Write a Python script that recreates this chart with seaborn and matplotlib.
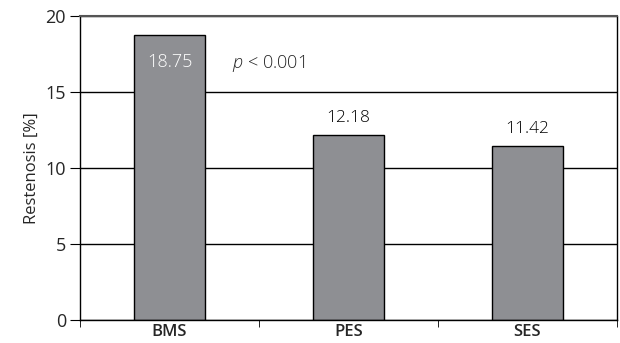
import matplotlib
matplotlib.use("Agg")
import matplotlib.pyplot as plt
import seaborn as sns
import pandas as pd

# Data
stents = ["BMS", "PES", "SES"]
restenosis = [18.75, 12.18, 11.42]
p_text = "< 0.001"

df = pd.DataFrame({"stent": stents, "restenosis": restenosis})

sns.set_style("white")
plt.rcParams["font.family"] = ["Open Sans", "DejaVu Sans"]
plt.rcParams["mathtext.fontset"] = "custom"
plt.rcParams["mathtext.it"] = "Open Sans:italic:light"
plt.rcParams["mathtext.rm"] = "Open Sans:light"

fig, ax = plt.subplots(figsize=(6.2, 3.43), dpi=100)
fig.subplots_adjust(left=0.129, right=0.995, bottom=0.067, top=0.953)

# Gridlines under the bars
ax.set_axisbelow(True)
ax.yaxis.grid(True, color="black", linewidth=1)

sns.barplot(data=df, x="stent", y="restenosis", color="#8e8f93",
            saturation=1, edgecolor="black", linewidth=1, width=0.4, ax=ax)

ax.set_ylim(0, 20)
ax.set_xlim(-0.5, 2.5)
ax.set_yticks([0, 5, 10, 15, 20])
ax.set_xlabel("")
ax.set_ylabel("Restenosis [%]", fontsize=12)

# Value labels
for i, v in enumerate(restenosis):
    if i == 0:
        ax.text(i, v - 1.2, f"{v:.2f}", ha="center", va="top", color="white",
                fontsize=13, fontweight="light")
    else:
        ax.text(i, v + 0.6, f"{v:.2f}", ha="center", va="bottom", color="black",
                fontsize=12.5, fontweight="light")

ax.text(0.35, 16.9, "$\\it{p}$ " + p_text, ha="left", va="center", fontsize=13,
        fontweight="light")

# Spines and ticks
for side in ["left", "bottom", "right", "top"]:
    ax.spines[side].set_visible(True)
    ax.spines[side].set_color("black")
    ax.spines[side].set_linewidth(1)
ax.spines["top"].set_color("#555555")
ax.spines["top"].set_linewidth(1.5)

ax.set_xticks([0, 1, 2])
ax.set_xticklabels(stents, fontsize=12, fontweight="semibold")
ax.set_xticks([-0.5, 0.5, 1.5, 2.5], minor=True)
ax.tick_params(axis="x", which="major", length=0, pad=3)
ax.tick_params(axis="x", which="minor", length=5, direction="out", bottom=True, color="black")
ax.tick_params(axis="y", length=7, direction="out", left=True, color="black", labelsize=13, pad=3)

fig.savefig("out.png", dpi=100)
